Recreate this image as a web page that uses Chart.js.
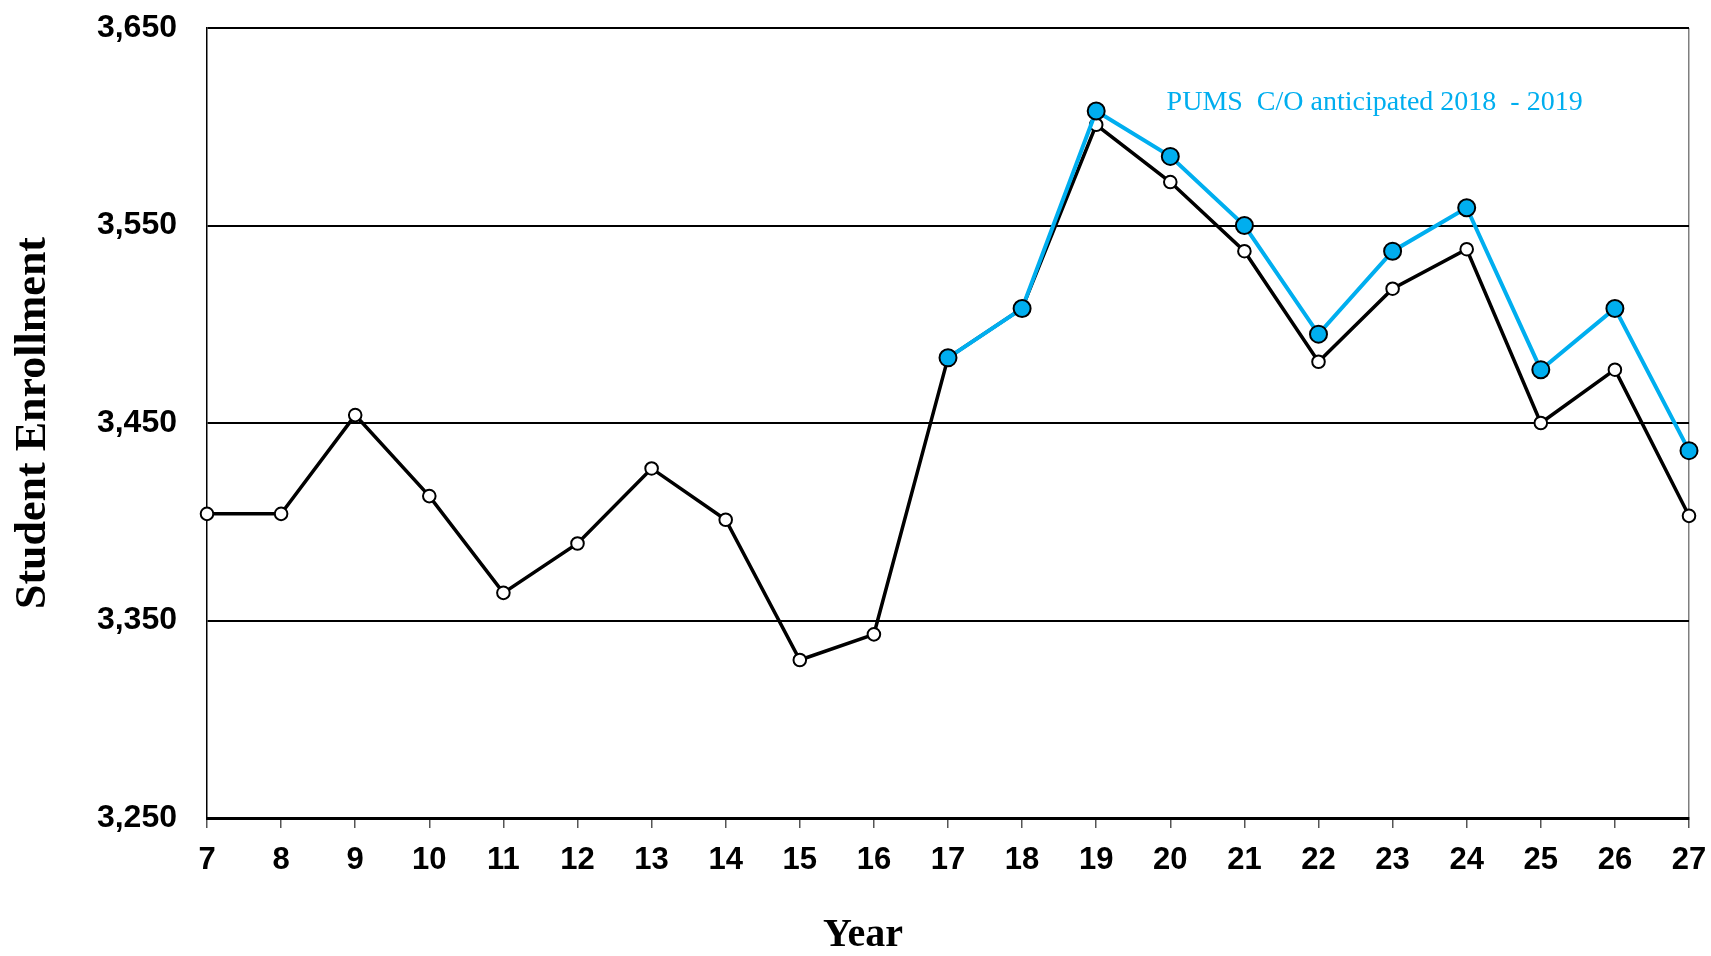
<!DOCTYPE html>
<html>
<head>
<meta charset="utf-8">
<style>
  html, body { margin: 0; padding: 0; background: #ffffff; }
  #wrap { width: 1711px; height: 956px; position: relative; }
</style>
<script src="https://cdn.jsdelivr.net/npm/chart.js@4/dist/chart.umd.min.js"></script>
</head>
<body>
<div id="wrap"><canvas id="c"></canvas></div>
<script>
// ---- data ----
const years = ['7','8','9','10','11','12','13','14','15','16','17','18','19','20','21','22','23','24','25','26','27'];
const enrollment = [3404, 3404, 3454, 3413, 3364, 3389, 3427, 3401, 3330, 3343, 3483, 3508, 3601, 3572, 3537, 3481, 3518, 3538, 3450, 3477, 3403];
const pumsAnticipated = [null, null, null, null, null, null, null, null, null, null, 3483, 3508, 3608, 3585, 3550, 3495, 3537, 3559, 3477, 3508, 3436];
const yTicks = [3250, 3350, 3450, 3550, 3650];
const annotationText = 'PUMS  C/O anticipated 2018  - 2019';
const annotationAt = { year: 19.95, value: 3612 };

const BLUE = '#00AEEF';

const annotationPlugin = {
  id: 'pumsNote',
  afterDraw(chart) {
    const { ctx, scales } = chart;
    const x = scales.x.getPixelForValue(annotationAt.year - Number(years[0]));
    const y = scales.y.getPixelForValue(annotationAt.value);
    ctx.save();
    ctx.font = '28px "Liberation Serif", "Times New Roman", serif';
    ctx.fillStyle = BLUE;
    ctx.textAlign = 'left';
    ctx.textBaseline = 'middle';
    ctx.fillText(annotationText, x, y);
    ctx.restore();
  }
};

new Chart(document.getElementById('c'), {
  type: 'line',
  data: {
    labels: years,
    datasets: [
      {
        label: 'PUMS C/O anticipated',
        data: pumsAnticipated,
        borderColor: BLUE,
        borderWidth: 4,
        pointRadius: 8.5,
        pointBorderWidth: 2,
        pointBackgroundColor: BLUE,
        pointBorderColor: '#000000',
        tension: 0,
        spanGaps: false
      },
      {
        label: 'Student Enrollment',
        data: enrollment,
        borderColor: '#000000',
        borderWidth: 3.5,
        pointRadius: 6.3,
        pointBorderWidth: 2,
        pointBackgroundColor: '#ffffff',
        pointBorderColor: '#000000',
        tension: 0
      }
    ]
  },
  options: {
    responsive: true,
    maintainAspectRatio: false,
    animation: false,
    layout: { autoPadding: false, padding: { top: 28, right: 22, left: 0, bottom: 0 } },
    plugins: {
      legend: { display: false },
      tooltip: { enabled: false },
      title: { display: false }
    },
    scales: {
      x: {
        type: 'category',
        offset: false,
        afterFit(scale) { scale.height = 138; scale.paddingLeft = 0; scale.paddingRight = 0; },
        grid: {
          color: (c) => (c.index === years.length - 1 ? '#7f7f7f' : 'rgba(0,0,0,0)'),
          lineWidth: 1.5,
          drawTicks: true,
          tickLength: 10,
          tickColor: '#555555',
          tickWidth: 1.5
        },
        border: { display: true, color: '#000000', width: 3 },
        ticks: {
          color: '#000000',
          padding: 14,
          maxRotation: 0,
          autoSkip: false,
          font: { family: '"Liberation Sans", Arial, sans-serif', size: 31, weight: 'bold' }
        },
        title: {
          display: true,
          text: 'Year' + ' '.repeat(17),
          color: '#000000',
          padding: { top: 0, bottom: 0 },
          font: { family: '"Liberation Serif", "Times New Roman", serif', size: 40, weight: 'bold', lineHeight: 1 }
        }
      },
      y: {
        min: 3250,
        max: 3650,
        afterFit(scale) { scale.width = 207; scale.paddingTop = 0; scale.paddingBottom = 0; },
        afterBuildTicks(scale) { scale.ticks = yTicks.map(v => ({ value: v })); },
        grid: {
          color: '#000000',
          lineWidth: 2,
          drawTicks: false
        },
        border: { display: true, color: '#000000', width: 1.5 },
        ticks: {
          color: '#000000',
          padding: 30,
          callback: (v) => Number(v).toLocaleString('en-US'),
          font: { family: '"Liberation Sans", Arial, sans-serif', size: 32, weight: 'bold' }
        },
        title: {
          display: true,
          text: 'Student Enrollment',
          color: '#000000',
          padding: { top: 12, bottom: 0 },
          font: { family: '"Liberation Serif", "Times New Roman", serif', size: 44, weight: 'bold', lineHeight: 1 }
        }
      }
    }
  },
  plugins: [annotationPlugin]
});
</script>
</body>
</html>
